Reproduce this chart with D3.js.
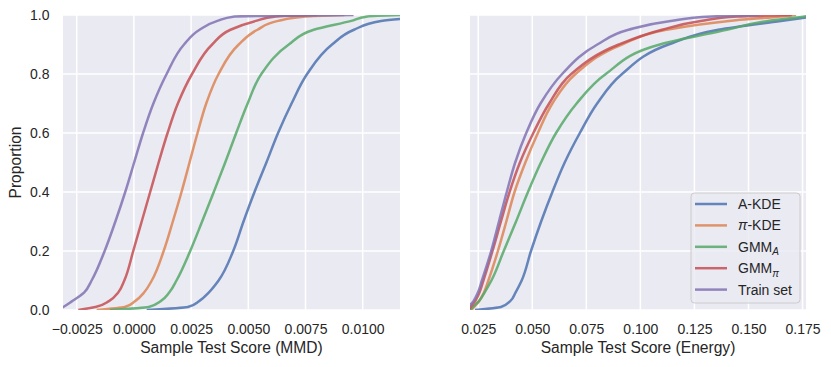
<!DOCTYPE html>
<html>
<head>
<meta charset="utf-8">
<script src="https://cdn.jsdelivr.net/npm/d3@7"></script>
<style>
body { margin: 0; background: #fff; }
svg { font-family: "Liberation Sans", Arial, sans-serif; }
</style>
</head>
<body>
<svg id="chart" width="831" height="367"></svg>
<script>
// ECDF: x value reached at each proportion
var proportions = [0, 0.01, 0.03, 0.06, 0.1, 0.2, 0.3, 0.4, 0.5, 0.6, 0.7, 0.8, 0.9, 0.95, 0.98, 0.995, 1];

var akdeMMD  = [0.00056, 0.00236, 0.00285, 0.00328, 0.00370, 0.00434, 0.00479, 0.00527, 0.00579, 0.00630, 0.00689, 0.00757, 0.00866, 0.00962, 0.01080, 0.0135, 0.0150];
var pikdeMMD = [-0.00163, -0.00040, 0.00005, 0.00045, 0.00078, 0.00130, 0.00170, 0.00208, 0.00243, 0.00278, 0.00316, 0.00370, 0.00458, 0.00540, 0.00630, 0.0075, 0.0092];
var gmmAMMD  = [-0.00105, 0.00065, 0.00117, 0.00155, 0.00186, 0.00246, 0.00298, 0.00349, 0.00399, 0.00447, 0.00497, 0.00557, 0.00677, 0.00786, 0.00950, 0.0102, 0.0118];
var gmmPiMMD = [-0.00243, -0.00168, -0.00109, -0.00068, -0.00042, -0.00003, 0.00034, 0.00071, 0.00108, 0.00147, 0.00192, 0.00254, 0.00342, 0.00422, 0.00533, 0.0062, 0.0080];
var trainMMD = [-0.0034, -0.00310, -0.00270, -0.00217, -0.00185, -0.00128, -0.00081, -0.00038, 0.00001, 0.00040, 0.00085, 0.00143, 0.00219, 0.00287, 0.00365, 0.00440, 0.0096];

var akdeEnergy  = [0.0235, 0.0355, 0.0398, 0.0423, 0.0451, 0.0494, 0.0541, 0.0593, 0.0650, 0.0720, 0.0800, 0.0915, 0.1130, 0.1360, 0.1650, 0.1800, 0.1850];
var pikdeEnergy = [0.0219, 0.0230, 0.0254, 0.0277, 0.0297, 0.0341, 0.0380, 0.0418, 0.0468, 0.0526, 0.0593, 0.0700, 0.0915, 0.1120, 0.1410, 0.1650, 0.1720];
var gmmAEnergy  = [0.0212, 0.0225, 0.0253, 0.0280, 0.0311, 0.0368, 0.0425, 0.0480, 0.0540, 0.0610, 0.0705, 0.0840, 0.1090, 0.1400, 0.1590, 0.1760, 0.1800];
var gmmPiEnergy = [0.0205, 0.0215, 0.0236, 0.0256, 0.0274, 0.0316, 0.0355, 0.0395, 0.0443, 0.0505, 0.0578, 0.0680, 0.0900, 0.1100, 0.1280, 0.1450, 0.1700];
var trainEnergy = [0.0195, 0.0205, 0.0228, 0.0249, 0.0267, 0.0310, 0.0346, 0.0382, 0.0421, 0.0472, 0.0538, 0.0638, 0.0801, 0.0945, 0.1140, 0.1330, 0.1550];

var mmdTicks = [-0.0025, 0, 0.0025, 0.005, 0.0075, 0.01];
var energyTicks = [0.025, 0.05, 0.075, 0.1, 0.125, 0.15, 0.175];
var yTicks = [0, 0.2, 0.4, 0.6, 0.8, 1.0];

// legend: italic prefix, base text, subscript
var seriesNames = [
    {pre: "", base: "A-KDE", sub: ""},
    {pre: "π", base: "-KDE", sub: ""},
    {pre: "", base: "GMM", sub: "A"},
    {pre: "", base: "GMM", sub: "π"},
    {pre: "", base: "Train set", sub: ""}
];
var colors = ["#4c72b0", "#dd8452", "#55a868", "#c44e52", "#8172b3"];

var svg = d3.select("#chart");
var plotTop = 15, plotBottom = 310;
var textColor = "#262626";
var lineWidth = 2.5, lineAlpha = 0.85;

var y = d3.scaleLinear().domain([0, 1]).range([plotBottom, plotTop]);

function drawPanel(id, left, right, domain, ticks, fmt, series, xlabel, showY) {
    var x = d3.scaleLinear().domain(domain).range([left, right]);
    var g = svg.append("g");

    g.append("rect")
        .attr("x", left).attr("y", plotTop)
        .attr("width", right - left).attr("height", plotBottom - plotTop)
        .attr("fill", "#eaeaf2");

    g.selectAll(".vgrid").data(ticks).enter().append("line")
        .attr("x1", function (d) { return x(d); })
        .attr("x2", function (d) { return x(d); })
        .attr("y1", plotTop).attr("y2", plotBottom)
        .attr("stroke", "#fff").attr("stroke-width", 1.5);
    g.selectAll(".hgrid").data(yTicks).enter().append("line")
        .attr("x1", left).attr("x2", right)
        .attr("y1", function (d) { return y(d); })
        .attr("y2", function (d) { return y(d); })
        .attr("stroke", "#fff").attr("stroke-width", 1.5);

    g.append("defs").append("clipPath").attr("id", "clip" + id)
      .append("rect")
        .attr("x", left).attr("y", plotTop)
        .attr("width", right - left).attr("height", plotBottom - plotTop);

    // proportions rise strictly, so interpolate x as a function of y
    var line = d3.line()
        .x(function (d) { return x(d[0]); })
        .y(function (d) { return y(d[1]); })
        .curve(d3.curveMonotoneY);

    g.append("g").attr("clip-path", "url(#clip" + id + ")")
      .selectAll("path").data(series).enter().append("path")
        .attr("d", function (s) { return line(s.map(function (v, i) { return [v, proportions[i]]; })); })
        .attr("fill", "none")
        .attr("stroke", function (s, i) { return colors[i]; })
        .attr("stroke-opacity", lineAlpha)
        .attr("stroke-width", lineWidth)
        .attr("stroke-linejoin", "round");

    var xAxis = g.append("g")
        .attr("transform", "translate(0," + plotBottom + ")")
        .call(d3.axisBottom(x).tickValues(ticks).tickFormat(d3.format(fmt)).tickSize(0).tickPadding(13.6));
    xAxis.select(".domain").remove();
    xAxis.selectAll("text").attr("font-size", 14).attr("fill", textColor).attr("font-family", null);

    if (showY) {
        var yAxis = g.append("g")
            .attr("transform", "translate(" + left + ",0)")
            .call(d3.axisLeft(y).tickValues(yTicks).tickFormat(d3.format(".1f")).tickSize(0).tickPadding(13.5));
        yAxis.select(".domain").remove();
        yAxis.selectAll("text").attr("font-size", 14).attr("fill", textColor).attr("font-family", null);

        g.append("text")
            .attr("transform", "translate(21," + ((plotTop + plotBottom) / 2) + ") rotate(-90)")
            .attr("text-anchor", "middle")
            .attr("font-size", 15.6).attr("fill", textColor)
            .text("Proportion");
    }

    g.append("text")
        .attr("x", (left + right) / 2).attr("y", 353)
        .attr("text-anchor", "middle")
        .attr("font-size", 15.6).attr("fill", textColor)
        .text(xlabel);

    return x;
}

drawPanel("a", 63, 400, [-0.0031, 0.01163], mmdTicks, ".4f",
    [akdeMMD, pikdeMMD, gmmAMMD, gmmPiMMD, trainMMD], "Sample Test Score (MMD)", true);
drawPanel("b", 470, 806, [0.0212, 0.1766], energyTicks, ".3f",
    [akdeEnergy, pikdeEnergy, gmmAEnergy, gmmPiEnergy, trainEnergy], "Sample Test Score (Energy)", false);

// legend
var legend = svg.append("g");
legend.append("rect")
    .attr("x", 691).attr("y", 193).attr("width", 109).attr("height", 110)
    .attr("rx", 3.5)
    .attr("fill", "#eaeaf2").attr("fill-opacity", 0.8)
    .attr("stroke", "#cccccc").attr("stroke-width", 1);

var rows = legend.selectAll(".row").data(seriesNames).enter().append("g")
    .attr("transform", function (d, i) { return "translate(0," + (204 + i * 21.4) + ")"; });
rows.append("line")
    .attr("x1", 695).attr("x2", 727)
    .attr("stroke", function (d, i) { return colors[i]; })
    .attr("stroke-opacity", lineAlpha)
    .attr("stroke-width", lineWidth);
var labels = rows.append("text")
    .attr("x", 738).attr("dy", "0.36em")
    .attr("font-size", 14).attr("fill", textColor);
labels.each(function (d) {
    var t = d3.select(this);
    if (d.pre) t.append("tspan").attr("font-style", "italic").text(d.pre);
    t.append("tspan").text(d.base);
    if (d.sub) t.append("tspan").attr("font-style", "italic").attr("font-size", 10)
        .attr("dy", "0.35em").text(d.sub);
});
</script>
</body>
</html>
